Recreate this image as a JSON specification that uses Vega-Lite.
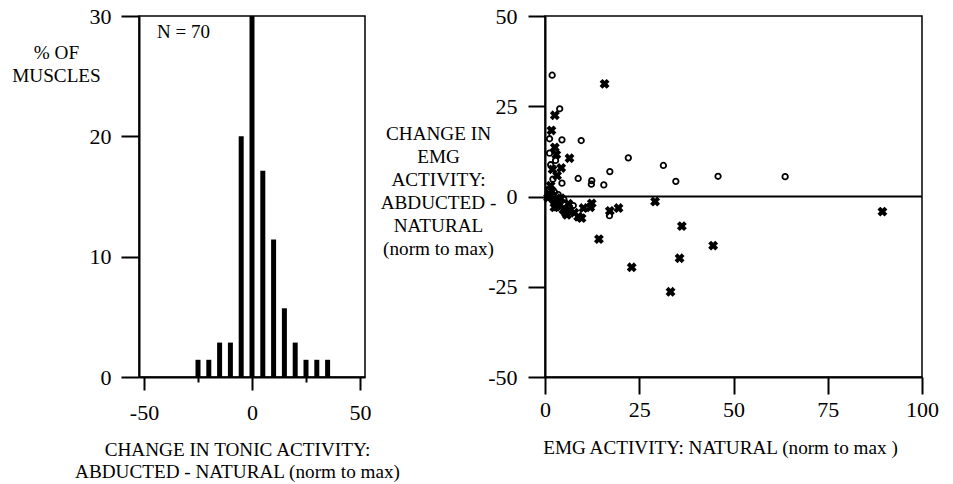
{
  "$schema": "https://vega.github.io/schema/vega-lite/v6.json",
  "padding": {"left": 11, "top": 4, "right": 5, "bottom": 0},
  "background": "white",
  "bounds": "flush",
  "spacing": 180,
  "config": {
    "font": "Liberation Serif",
    "view": {"stroke": "black", "strokeWidth": 1.5},
    "axis": {
      "grid": false,
      "domainColor": "black",
      "domainWidth": 2,
      "tickColor": "black",
      "tickWidth": 2,
      "labelFont": "Liberation Serif",
      "labelFontSize": 22,
      "labelColor": "black",
      "labelFlush": false,
      "labelOverlap": false,
      "titleFont": "Liberation Serif",
      "titleFontSize": 19.2,
      "titleFontWeight": "normal",
      "titleColor": "black"
    }
  },
  "hconcat": [
    {
      "width": 226,
      "height": 361,
      "layer": [
        {
          "data": {
            "values": [
              {"change": -25, "pct": 1.43},
              {"change": -20, "pct": 1.43},
              {"change": -15, "pct": 2.86},
              {"change": -10, "pct": 2.86},
              {"change": -5, "pct": 20.0},
              {"change": 0, "pct": 30.0},
              {"change": 5, "pct": 17.14},
              {"change": 10, "pct": 11.43},
              {"change": 15, "pct": 5.71},
              {"change": 20, "pct": 2.86},
              {"change": 25, "pct": 1.43},
              {"change": 30, "pct": 1.43},
              {"change": 35, "pct": 1.43}
            ]
          },
          "mark": {"type": "bar", "color": "black", "size": 5},
          "encoding": {
            "x": {
              "field": "change",
              "type": "quantitative",
              "scale": {"domain": [-50, 50], "nice": false, "zero": false},
              "axis": {
                "values": [-50, -25, 0, 25, 50],
                "labelExpr": "datum.value % 50 === 0 ? replace(datum.label, '\u2212', '-') : ''",
                "tickSize": {"condition": {"test": "datum.value % 50 === 0", "value": 13}, "value": 5},
                "labelPadding": 12,
                "title": ["CHANGE IN TONIC ACTIVITY:", "ABDUCTED - NATURAL (norm to max)"],
                "titleX": 98,
                "titleY": 78,
                "titleAlign": "center",
                "titleBaseline": "alphabetic",
                "titleLineHeight": 22
              }
            },
            "y": {
              "field": "pct",
              "type": "quantitative",
              "scale": {"domain": [0, 30], "nice": false},
              "axis": {
                "values": [0, 10, 20, 30],
                "tickSize": 18,
                "labelPadding": 10,
                "title": ["% OF", "MUSCLES"],
                "titleAngle": 0,
                "titleAlign": "center",
                "titleBaseline": "alphabetic",
                "titleX": -83,
                "titleY": 42,
                "titleLineHeight": 23
              }
            }
          }
        },
        {
          "data": {"values": [{"label": "N = 70", "x": -44, "y": 28.2}]},
          "mark": {"type": "text", "align": "left", "baseline": "alphabetic", "font": "Liberation Serif", "fontSize": 19, "color": "black"},
          "encoding": {
            "x": {"field": "x", "type": "quantitative"},
            "y": {"field": "y", "type": "quantitative"},
            "text": {"field": "label"}
          }
        }
      ]
    },
    {
      "width": 377,
      "height": 361,
      "layer": [
        {
          "data": {"values": [{"zero": 0}]},
          "mark": {"type": "rule", "color": "black", "strokeWidth": 2},
          "encoding": {
            "y": {
              "field": "zero",
              "type": "quantitative",
              "scale": {"domain": [-50, 50], "nice": false},
              "axis": {
                "values": [-50, -25, 0, 25, 50],
                "labelExpr": "replace(datum.label, '\u2212', '-')",
                "tickSize": 17,
                "labelPadding": 11,
                "title": ["CHANGE IN", "EMG", "ACTIVITY:", "ABDUCTED -", "NATURAL", "(norm to max)"],
                "titleAngle": 0,
                "titleAlign": "center",
                "titleBaseline": "alphabetic",
                "titleX": -107,
                "titleY": 123,
                "titleLineHeight": 23
              }
            }
          }
        },
        {
          "data": {
            "values": [
              {"natural": 1.9, "change": 33.6},
              {"natural": 3.9, "change": 24.3},
              {"natural": 1.2, "change": 16.0},
              {"natural": 4.5, "change": 15.7},
              {"natural": 9.6, "change": 15.5},
              {"natural": 22.1, "change": 10.7},
              {"natural": 17.2, "change": 6.9},
              {"natural": 31.4, "change": 8.6},
              {"natural": 34.7, "change": 4.2},
              {"natural": 45.9, "change": 5.6},
              {"natural": 63.7, "change": 5.5},
              {"natural": 8.8, "change": 5.0},
              {"natural": 12.4, "change": 4.4},
              {"natural": 12.3, "change": 3.4},
              {"natural": 15.6, "change": 3.2},
              {"natural": 2.1, "change": 4.8},
              {"natural": 4.5, "change": 3.7},
              {"natural": 17.1, "change": -5.3},
              {"natural": 1.5, "change": 8.8},
              {"natural": 1.0, "change": 2.0},
              {"natural": 2.5, "change": 1.2},
              {"natural": 3.5, "change": 0.5},
              {"natural": 1.5, "change": -0.5},
              {"natural": 5.0, "change": -0.8},
              {"natural": 7.5, "change": -2.5},
              {"natural": 1.2, "change": 12.0},
              {"natural": 2.8, "change": 10.0}
            ]
          },
          "mark": {"type": "point", "shape": "circle", "filled": false, "color": "black", "size": 30, "strokeWidth": 1.8, "opacity": 1},
          "encoding": {
            "x": {
              "field": "natural",
              "type": "quantitative",
              "scale": {"domain": [0, 100], "nice": false},
              "axis": {
                "values": [0, 25, 50, 75, 100],
                "tickSize": 17,
                "labelPadding": 5,
                "title": "EMG ACTIVITY: NATURAL (norm to max )",
                "titleX": 175,
                "titleY": 76,
                "titleAlign": "center",
                "titleBaseline": "alphabetic"
              }
            },
            "y": {"field": "change", "type": "quantitative"}
          }
        },
        {
          "data": {
            "values": [
              {"natural": 15.8, "change": 31.2},
              {"natural": 2.6, "change": 22.5},
              {"natural": 1.7, "change": 18.3},
              {"natural": 2.6, "change": 13.6},
              {"natural": 3.0, "change": 11.6},
              {"natural": 6.5, "change": 10.6},
              {"natural": 4.3, "change": 7.9},
              {"natural": 2.0, "change": 7.5},
              {"natural": 14.3, "change": -11.8},
              {"natural": 23.0, "change": -19.6},
              {"natural": 33.3, "change": -26.4},
              {"natural": 36.3, "change": -8.2},
              {"natural": 35.7, "change": -17.1},
              {"natural": 44.6, "change": -13.6},
              {"natural": 29.2, "change": -1.4},
              {"natural": 89.5, "change": -4.2},
              {"natural": 19.5, "change": -3.2},
              {"natural": 17.2, "change": -4.0},
              {"natural": 12.4, "change": -1.9},
              {"natural": 9.7, "change": -6.0},
              {"natural": 8.8, "change": -5.6},
              {"natural": 10.2, "change": -3.2},
              {"natural": 5.8, "change": -5.1},
              {"natural": 4.9, "change": -3.7},
              {"natural": 3.5, "change": -1.9},
              {"natural": 2.4, "change": -1.0},
              {"natural": 1.2, "change": 0.5},
              {"natural": 1.8, "change": 1.5},
              {"natural": 0.8, "change": -0.3},
              {"natural": 3.0, "change": -2.8},
              {"natural": 4.0, "change": -2.2},
              {"natural": 6.5, "change": -3.8},
              {"natural": 7.8, "change": -4.5},
              {"natural": 5.5, "change": -4.5},
              {"natural": 6.2, "change": -2.0},
              {"natural": 2.5, "change": -3.0},
              {"natural": 4.2, "change": -0.5},
              {"natural": 1.5, "change": 3.0},
              {"natural": 3.2, "change": 5.8},
              {"natural": 12.0, "change": -3.0}
            ]
          },
          "mark": {"type": "point", "shape": "cross", "angle": 45, "filled": true, "color": "black", "size": 100, "opacity": 1},
          "encoding": {
            "x": {"field": "natural", "type": "quantitative"},
            "y": {"field": "change", "type": "quantitative"}
          }
        }
      ]
    }
  ]
}
